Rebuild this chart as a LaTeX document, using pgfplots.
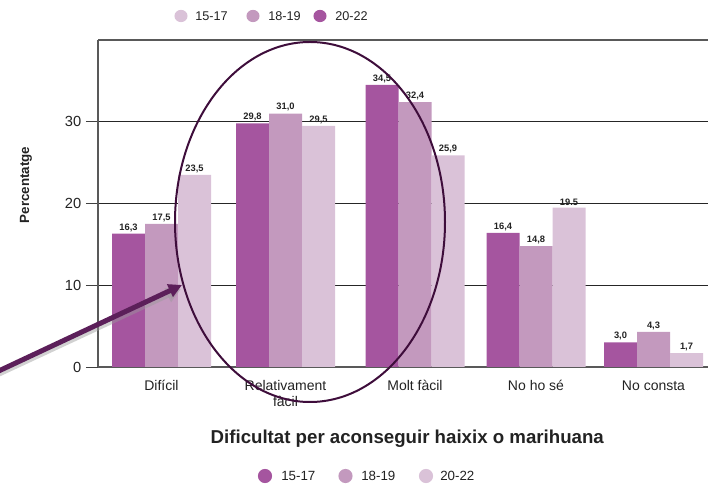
\documentclass[border=0pt]{standalone}
\usepackage{pgfplots}
\pgfplotsset{compat=1.18}
\usepackage{fontspec}
\setmainfont{Liberation Sans}
\usetikzlibrary{arrows.meta}
\definecolor{dark}{HTML}{A5559F}
\definecolor{mid}{HTML}{C399BE}
\definecolor{light}{HTML}{DAC2D8}
\definecolor{ring}{HTML}{3E0D3B}
\definecolor{arrowc}{HTML}{5C1F5A}
\definecolor{textc}{HTML}{222222}

% x positions of the five groups (group centres)
\pgfplotstableread[row sep=\\]{
x y lbl\\
1.615 16.3 16,3\\
2.855 29.8 29,8\\
4.15 34.5 34,5\\
5.36 16.4 16,4\\
6.535 3.0 3,0\\
}\agea
\pgfplotstableread[row sep=\\]{
x y lbl\\
1.615 17.5 17,5\\
2.855 31.0 31,0\\
4.15 32.4 32,4\\
5.36 14.8 14,8\\
6.535 4.3 4,3\\
}\ageb
\pgfplotstableread[row sep=\\]{
x y lbl\\
1.615 23.5 23,5\\
2.855 29.5 29,5\\
4.15 25.9 25,9\\
5.36 19.5 19.5\\
6.535 1.7 1,7\\
}\agec

\begin{document}
\begin{tikzpicture}
\path[use as bounding box] (0,0) rectangle (531pt,-363pt);
\begin{axis}[
  at={(73.5pt,-30pt)}, anchor=north west,
  scale only axis, width=457.5pt, height=245.25pt,
  xmin=0.98, xmax=7.08, ymin=0, ymax=40,
  axis x line*=box, axis y line*=left,
  axis line style={draw=black!65, line width=0.9pt},
  ybar=0pt, bar width=0.33,
  ytick={0,10,20,30},
  ymajorgrids,
  major grid style={draw=black!85, line width=0.7pt},
  tick align=outside, major tick length=9pt,
  ytick style={draw=black!75, line width=0.7pt},
  xtick={1.615,2.855,4.15,5.36,6.535},
  xticklabels={\strut Difícil,{\strut Relativament\\fàcil},\strut Molt fàcil,\strut No ho sé,\strut No consta},
  xtick style={draw=none},
  xticklabel style={align=center, font=\fontsize{10.5}{10}\selectfont, text=textc, yshift=2.5pt},
  yticklabel style={font=\fontsize{11}{12}\selectfont, text=textc,
    /pgf/number format/assume math mode=true},
  ylabel={Percentatge},
  ylabel style={font=\bfseries\fontsize{10}{10}\selectfont, text=textc,
    at={(axis description cs:-0.118,0.557)}, anchor=center},
  xlabel={Dificultat per aconseguir haixix o marihuana},
  xlabel style={font=\bfseries\fontsize{14}{14}\selectfont, text=textc,
    at={(axis description cs:0.507,-0.22)}, anchor=center},
  nodes near coords, point meta=explicit symbolic,
  every node near coord/.append style={font=\bfseries\fontsize{7}{7}\selectfont,
    text=textc, inner sep=1.5pt},
]
\addplot[fill=dark, draw=none] table[x=x, y=y, meta=lbl] {\agea};
\addplot[fill=mid, draw=none] table[x=x, y=y, meta=lbl] {\ageb};
\addplot[fill=light, draw=none] table[x=x, y=y, meta=lbl] {\agec};
\end{axis}

\begin{scope}[x=0.75pt, y=-0.75pt]
  % ellipse and arrow annotations
  \draw[ring, line width=1.5pt] (310,222) ellipse [x radius=101.25pt, y radius=135pt];
  \draw[black!40, opacity=0.45, line width=4pt, -{Triangle[length=11pt,width=11pt]}]
    (-12,379) -- (181,289);
  \draw[arrowc, line width=3.75pt, -{Triangle[length=10pt,width=10pt]}]
    (-12,376) -- (182,285);

  % top legend
  \begin{scope}[every node/.style={anchor=west, inner sep=0pt, text=textc,
      font=\fontsize{9.5}{11}\selectfont}]
    \fill[light] (181,16) ellipse [x radius=4.9pt, y radius=4.6pt];
    \node at (195,16) {15-17};
    \fill[mid] (253,16) ellipse [x radius=4.9pt, y radius=4.6pt];
    \node at (268,16) {18-19};
    \fill[dark] (320,16) ellipse [x radius=4.9pt, y radius=4.6pt];
    \node at (335,16) {20-22};
  \end{scope}

  % bottom legend
  \begin{scope}[every node/.style={anchor=west, inner sep=0pt, text=textc,
      font=\fontsize{10}{12}\selectfont}]
    \fill[dark] (265,476) circle [radius=5.3pt];
    \node at (281,476) {15-17};
    \fill[mid] (345.5,476) circle [radius=5.3pt];
    \node at (361,476) {18-19};
    \fill[light] (426,476) circle [radius=5.3pt];
    \node at (440,476) {20-22};
  \end{scope}
\end{scope}
\end{tikzpicture}
\end{document}
